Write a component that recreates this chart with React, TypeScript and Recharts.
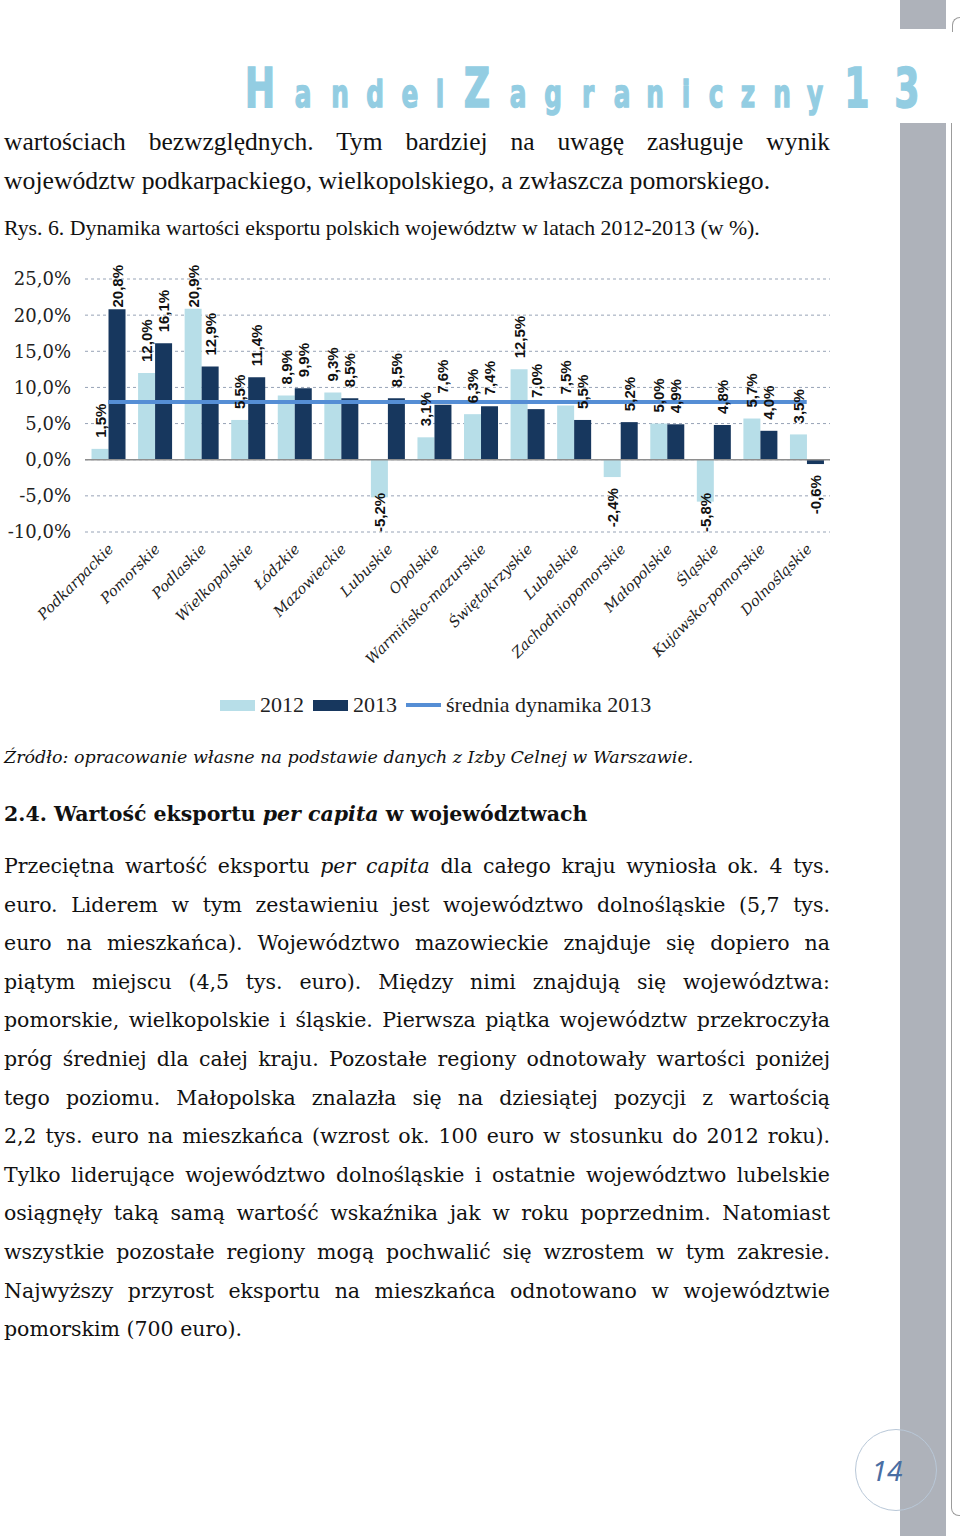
import React from 'react';
import {
  ComposedChart,
  Bar,
  Line,
  XAxis,
  YAxis,
  CartesianGrid,
  ReferenceLine,
  LabelList,
  Legend,
} from 'recharts';

const categories = [
  'Podkarpackie',
  'Pomorskie',
  'Podlaskie',
  'Wielkopolskie',
  'Łódzkie',
  'Mazowieckie',
  'Lubuskie',
  'Opolskie',
  'Warmińsko-mazurskie',
  'Świętokrzyskie',
  'Lubelskie',
  'Zachodniopomorskie',
  'Małopolskie',
  'Śląskie',
  'Kujawsko-pomorskie',
  'Dolnośląskie',
];
const values2012 = [1.5, 12.0, 20.9, 5.5, 8.9, 9.3, -5.2, 3.1, 6.3, 12.5, 7.5, -2.4, 5.0, -5.8, 5.7, 3.5];
const values2013 = [20.8, 16.1, 12.9, 11.4, 9.9, 8.5, 8.5, 7.6, 7.4, 7.0, 5.5, 5.2, 4.9, 4.8, 4.0, -0.6];
const avg2013 = [8.0, 8.0, 8.0, 8.0, 8.0, 8.0, 8.0, 8.0, 8.0, 8.0, 8.0, 8.0, 8.0, 8.0, 8.0, 8.0];
const yTicks = [-10, -5, 0, 5, 10, 15, 20, 25];
const seriesNames = ['2012', '2013', 'średnia dynamika 2013'];

const data = categories.map((name, i) => ({
  name,
  v2012: values2012[i],
  v2013: values2013[i],
  avg: avg2013[i],
}));

const LIGHT = '#b7dee8';
const DARK = '#17375e';
const AVG = '#558ed5';

const CHART_MARGIN = { top: 39, right: 10, left: 0, bottom: 3 };
const PLOT_TOP = CHART_MARGIN.top;
const PLOT_BOTTOM = CHART_MARGIN.top + 253;

const fmt = (v: number) => v.toFixed(1).replace('.', ',') + '%';

const LABEL_FS = 15;
const charW: Record<string, number> = { ',': 0.278, '%': 0.889, '-': 0.333 };
const labelLen = (s: string) =>
  s.split('').reduce((a, c) => a + (charW[c] !== undefined ? charW[c] : 0.556), 0) * LABEL_FS;

const renderValueLabel = (props: any) => {
  const { x, y, width, height, value } = props;
  if (value === undefined || value === null) return null;
  const v = Number(value);
  const text = fmt(v);
  const len = labelLen(text);
  const cx = Number(x) + Number(width) / 2;
  const y1 = Number(y);
  const y2 = Number(y) + Number(height);
  const top = Math.min(y1, y2);
  const bottom = Math.max(y1, y2);
  let anchorY: number;
  if (v >= 0) {
    anchorY = Math.max(top - 11, PLOT_TOP - 14 + len);
  } else {
    anchorY = Math.min(bottom + 11 + len, PLOT_BOTTOM);
  }
  return (
    <text
      x={cx}
      y={anchorY}
      transform={`rotate(-90, ${cx}, ${anchorY})`}
      textAnchor="start"
      dominantBaseline="central"
      fontFamily="Liberation Sans, Arial, sans-serif"
      fontWeight="bold"
      fontSize={LABEL_FS}
      fill="#111"
    >
      {text}
    </text>
  );
};

const CatTick = (props: any) => {
  const { x, y, payload } = props;
  return (
    <g transform={`translate(${x + 6},${y + 18})`}>
      <text
        x={0}
        y={0}
        textAnchor="end"
        transform="rotate(-45)"
        fontFamily="DejaVu Serif, serif"
        fontStyle="italic"
        fontSize={14.5}
        fill="#222"
      >
        {payload.value}
      </text>
    </g>
  );
};

const LegendContent = (props: any) => {
  const payload = props.payload || [];
  return (
    <div
      style={{
        display: 'flex',
        alignItems: 'center',
        height: 24,
        fontFamily: 'Liberation Serif, serif',
        fontSize: 22,
        color: '#222',
        whiteSpace: 'nowrap',
      }}
    >
      {payload.map((entry: any, i: number) => (
        <div key={i} style={{ display: 'flex', alignItems: 'center', marginRight: 9 }}>
          {entry.type === 'line' ? (
            <span style={{ display: 'inline-block', width: 35, height: 4, background: entry.color, marginRight: 5 }} />
          ) : (
            <span style={{ display: 'inline-block', width: 35, height: 11, background: entry.color, marginRight: 5 }} />
          )}
          <span>{entry.value}</span>
        </div>
      ))}
    </div>
  );
};

const ExportChart = () => (
  <ComposedChart
    width={840}
    height={480}
    data={data}
    margin={CHART_MARGIN}
    barCategoryGap="14%"
    barGap={0}
  >
    <CartesianGrid vertical={false} stroke="#97a3b6" strokeDasharray="3 3" />
    <XAxis
      dataKey="name"
      interval={0}
      height={161}
      axisLine={false}
      tickLine={false}
      tickSize={0}
      tickMargin={0}
      tick={<CatTick />}
    />
    <YAxis
      domain={[-10, 25]}
      ticks={yTicks}
      interval={0}
      width={85}
      axisLine={false}
      tickLine={false}
      tickSize={0}
      tickMargin={14}
      tickFormatter={(v: number) => fmt(v)}
      tick={{ fontFamily: 'DejaVu Serif, serif', fontSize: 18, fill: '#222' }}
    />
    <ReferenceLine y={0} stroke="#8e8e8e" strokeWidth={1.5} />
    <Bar dataKey="v2012" name={seriesNames[0]} fill={LIGHT} isAnimationActive={false}>
      <LabelList dataKey="v2012" content={renderValueLabel} />
    </Bar>
    <Bar dataKey="v2013" name={seriesNames[1]} fill={DARK} isAnimationActive={false}>
      <LabelList dataKey="v2013" content={renderValueLabel} />
    </Bar>
    <Line
      dataKey="avg"
      name={seriesNames[2]}
      type="linear"
      stroke={AVG}
      strokeWidth={4}
      dot={false}
      activeDot={false}
      isAnimationActive={false}
    />
    <Legend
      verticalAlign="bottom"
      height={24}
      wrapperStyle={{ left: 220, width: 480 }}
      content={<LegendContent />}
    />
  </ComposedChart>
);

const headerLetters: [string, number, boolean][] = [
  ['H', 260, true],
  ['a', 303, false],
  ['n', 340, false],
  ['d', 375, false],
  ['e', 410, false],
  ['l', 440, false],
  ['Z', 477, true],
  ['a', 518, false],
  ['g', 553, false],
  ['r', 588, false],
  ['a', 622, false],
  ['n', 655, false],
  ['i', 686, false],
  ['c', 716, false],
  ['z', 748, false],
  ['n', 782, false],
  ['y', 815, false],
  ['1', 857, true],
  ['3', 907, true],
];

const paraLines: React.ReactNode[] = [
  <>Przeciętna wartość eksportu <i>per capita</i> dla całego kraju wyniosła ok. 4 tys.</>,
  <>euro. Liderem w tym zestawieniu jest województwo dolnośląskie (5,7 tys.</>,
  <>euro na mieszkańca). Województwo mazowieckie znajduje się dopiero na</>,
  <>piątym miejscu (4,5 tys. euro). Między nimi znajdują się województwa:</>,
  <>pomorskie, wielkopolskie i śląskie. Pierwsza piątka województw przekroczyła</>,
  <>próg średniej dla całej kraju. Pozostałe regiony odnotowały wartości poniżej</>,
  <>tego poziomu. Małopolska znalazła się na dziesiątej pozycji z wartością</>,
  <>2,2 tys. euro na mieszkańca (wzrost ok. 100 euro w stosunku do 2012 roku).</>,
  <>Tylko liderujące województwo dolnośląskie i ostatnie województwo lubelskie</>,
  <>osiągnęły taką samą wartość wskaźnika jak w roku poprzednim. Natomiast</>,
  <>wszystkie pozostałe regiony mogą pochwalić się wzrostem w tym zakresie.</>,
  <>Najwyższy przyrost eksportu na mieszkańca odnotowano w województwie</>,
  <>pomorskim (700 euro).</>,
];

export default function App() {
  return (
    <div
      style={{
        position: 'absolute',
        left: 0,
        top: 0,
        width: 960,
        height: 1536,
        background: '#fff',
        overflow: 'hidden',
        color: '#111',
      }}
    >
      {/* right grey stripe */}
      <div style={{ position: 'absolute', left: 900, top: 0, width: 46, height: 29, background: '#aeb2ba' }} />
      <div style={{ position: 'absolute', left: 900, top: 123, width: 46, height: 1413, background: '#aeb2ba' }} />
      <div
        style={{
          position: 'absolute',
          left: 952,
          top: 17,
          width: 20,
          height: 14,
          borderLeft: '1.5px solid #9c9c9c',
          borderTop: '1.5px solid #9c9c9c',
          borderTopLeftRadius: 8,
        }}
      />
      <div
        style={{
          position: 'absolute',
          left: 951,
          top: 123,
          width: 20,
          height: 1392,
          borderLeft: '1.5px solid #9c9c9c',
          borderBottom: '1.5px solid #9c9c9c',
          borderBottomLeftRadius: 8,
        }}
      />

      {/* header */}
      {headerLetters.map(([ch, cx, big], i) => (
        <div
          key={i}
          style={{
            position: 'absolute',
            left: cx - 30,
            width: 60,
            top: big ? 58 : 72,
            textAlign: 'center',
            fontFamily: 'DejaVu Sans, sans-serif',
            fontWeight: 900,
            fontSize: big ? 56 : 38,
            lineHeight: big ? '60px' : '44px',
            color: '#93cde2',
            WebkitTextStroke: '1.5px #93cde2',
            transform: 'scaleX(0.65)',
          }}
        >
          {ch}
        </div>
      ))}

      {/* top text */}
      <div
        style={{
          position: 'absolute',
          left: 4,
          top: 126,
          width: 826,
          fontFamily: 'Liberation Serif, serif',
          fontSize: 25.5,
          lineHeight: '32px',
          textAlign: 'justify',
          textAlignLast: 'justify',
        }}
      >
        wartościach bezwzględnych. Tym bardziej na uwagę zasługuje wynik
      </div>
      <div
        style={{
          position: 'absolute',
          left: 4,
          top: 165,
          width: 860,
          fontFamily: 'Liberation Serif, serif',
          fontSize: 25.7,
          lineHeight: '32px',
          whiteSpace: 'nowrap',
        }}
      >
        województw podkarpackiego, wielkopolskiego, a zwłaszcza pomorskiego.
      </div>
      <div
        style={{
          position: 'absolute',
          left: 4,
          top: 214,
          width: 860,
          fontFamily: 'Liberation Serif, serif',
          fontSize: 21.8,
          lineHeight: '28px',
          whiteSpace: 'nowrap',
        }}
      >
        Rys. 6. Dynamika wartości eksportu polskich województw w latach 2012-2013 (w %).
      </div>

      {/* chart */}
      <div style={{ position: 'absolute', left: 0, top: 240, width: 840, height: 480 }}>
        <ExportChart />
      </div>

      {/* source */}
      <div
        style={{
          position: 'absolute',
          left: 4,
          top: 744,
          width: 860,
          fontFamily: 'DejaVu Serif, serif',
          fontStyle: 'italic',
          fontSize: 17.5,
          lineHeight: '26px',
          whiteSpace: 'nowrap',
        }}
      >
        Źródło: opracowanie własne na podstawie danych z Izby Celnej w Warszawie.
      </div>

      {/* heading */}
      <div
        style={{
          position: 'absolute',
          left: 4,
          top: 800,
          width: 860,
          fontFamily: 'DejaVu Serif, serif',
          fontWeight: 'bold',
          fontSize: 20.5,
          lineHeight: '28px',
          whiteSpace: 'nowrap',
        }}
      >
        2.4. Wartość eksportu <i>per capita</i> w województwach
      </div>

      {/* paragraph */}
      {paraLines.map((ln, i) => (
        <div
          key={i}
          style={{
            position: 'absolute',
            left: 4,
            top: 850 + i * 38.6,
            width: 826,
            fontFamily: 'DejaVu Serif, serif',
            fontSize: 20.5,
            lineHeight: '32px',
            textAlign: 'justify',
            textAlignLast: i === paraLines.length - 1 ? 'left' : 'justify',
            whiteSpace: 'nowrap',
          }}
        >
          {ln}
        </div>
      ))}

      {/* page number */}
      <div
        style={{
          position: 'absolute',
          left: 855,
          top: 1429,
          width: 80,
          height: 80,
          borderRadius: '50%',
          border: '1.5px solid #b9c8d8',
        }}
      />
      <div
        style={{
          position: 'absolute',
          left: 855,
          top: 1452,
          width: 64,
          textAlign: 'center',
          fontFamily: 'Noto Sans, sans-serif',
          fontStyle: 'italic',
          fontSize: 28,
          lineHeight: '36px',
          color: '#4a6ea3',
        }}
      >
        14
      </div>
    </div>
  );
}
